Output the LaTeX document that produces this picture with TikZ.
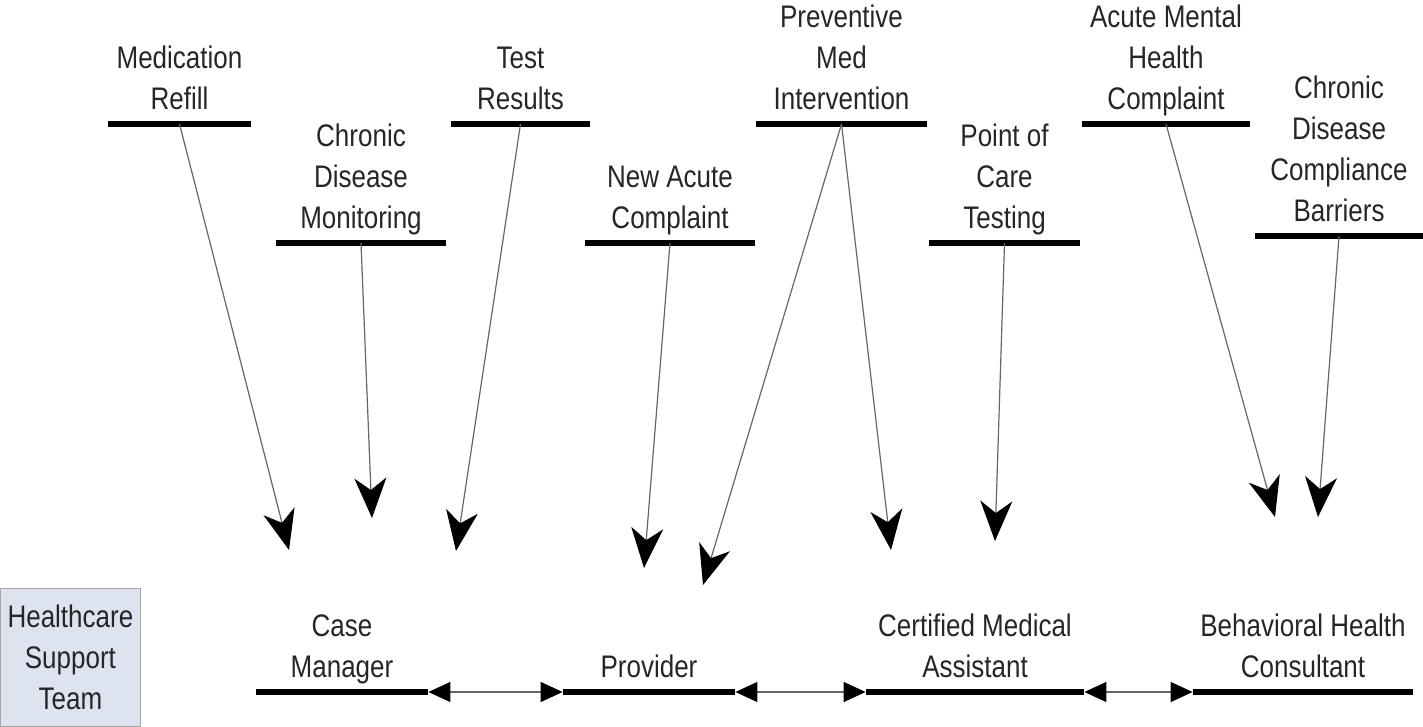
\documentclass[tikz,border=0pt]{standalone}
\usepackage{fontspec}
\setmainfont{Liberation Sans}
\usetikzlibrary{arrows.meta}

\definecolor{teamfill}{RGB}{221,228,240}

\tikzset{
  txt/.style={font=\fontsize{13}{17}\selectfont, align=center, yscale=1.2, text=black!85},
  lbl/.style={txt, anchor=south, inner xsep=0pt, inner ysep=6pt, text depth=0pt},
  bar/.style={line width=3pt},
  feed/.style={black!60, line width=0.6pt, -{Stealth[length=20pt,width=16pt,inset=6pt,black]}},
  link/.style={black!60, line width=0.6pt, {Triangle[length=11pt,width=10pt,black]}-{Triangle[length=11pt,width=10pt,black]}},
}

\begin{document}
\begin{tikzpicture}[x=0.5pt, y=0.5pt]
  \useasboundingbox (0,0) rectangle (1423,-727);

  % team box
  \node[txt, draw=black!35, fill=teamfill, anchor=south west,
        minimum width=70pt, minimum height=57.5pt, inner sep=1pt] (team) at (0,-727) {Healthcare\\Support\\Team};

  % topics
  \node[lbl, minimum width=71.5pt] (refill)  at (179.5,-124)  {Medication\\Refill};
  \node[lbl, minimum width=85pt]   (monitor) at (361,-243)    {Chronic\\Disease\\Monitoring};
  \node[lbl, minimum width=69.5pt] (tests)   at (520.5,-124)  {Test\\Results};
  \node[lbl, minimum width=85pt]   (acute)   at (670,-243)    {New Acute\\Complaint};
  \node[lbl, minimum width=85.5pt] (prevent) at (841.5,-124)  {Preventive\\Med\\Intervention};
  \node[lbl, minimum width=75.5pt] (poc)     at (1004.5,-243) {Point of\\Care\\Testing};
  \node[lbl, minimum width=84pt]   (mental)  at (1166,-124)   {Acute Mental\\Health\\Complaint};
  \node[lbl, minimum width=84pt]   (comply)  at (1339,-236)   {Chronic\\Disease\\Compliance\\Barriers};

  % roles
  \node[lbl, minimum width=86pt]  (cm)   at (342,-692)  {Case\\Manager};
  \node[lbl, minimum width=86pt]  (prov) at (649,-692)  {Provider};
  \node[lbl, minimum width=109pt] (cma)  at (975,-692)  {Certified Medical\\Assistant};
  \node[lbl, minimum width=110pt] (bhc)  at (1303,-692) {Behavioral Health\\Consultant};

  \foreach \n in {refill,monitor,tests,acute,prevent,poc,mental,comply,cm,prov,cma,bhc}
    \draw[bar] (\n.south west) -- (\n.south east);

  % arrow ends
  \coordinate (cm1)  at (289,-550);
  \coordinate (cm2)  at (372,-518);
  \coordinate (cm3)  at (456,-551);
  \coordinate (pr1)  at (644,-568);
  \coordinate (pr2)  at (703,-585);
  \coordinate (cma1) at (891,-550);
  \coordinate (cma2) at (995,-541);
  \coordinate (bh1)  at (1275,-517);
  \coordinate (bh2)  at (1318,-517);

  \draw[feed] (refill.south)  -- (cm1);
  \draw[feed] (monitor.south) -- (cm2);
  \draw[feed] (tests.south)   -- (cm3);
  \draw[feed] (acute.south)   -- (pr1);
  \draw[feed] (prevent.south) -- (pr2);
  \draw[feed] (prevent.south) -- (cma1);
  \draw[feed] (poc.south)     -- (cma2);
  \draw[feed] (mental.south)  -- (bh1);
  \draw[feed] (comply.south)  -- (bh2);

  % team links
  \draw[link] (cm.south east)   -- (prov.south west);
  \draw[link] (prov.south east) -- (cma.south west);
  \draw[link] (cma.south east)  -- (bhc.south west);
\end{tikzpicture}
\end{document}
